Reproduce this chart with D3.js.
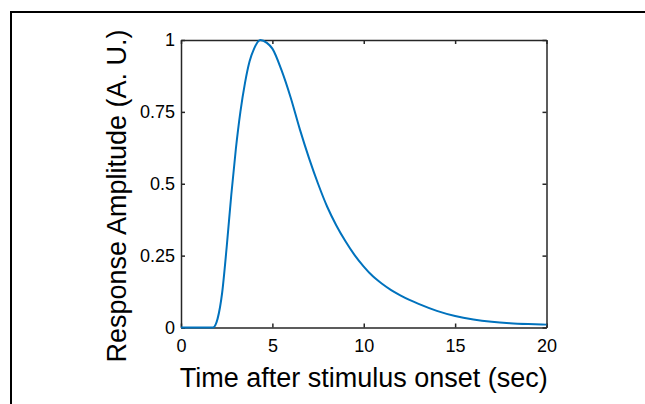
<!DOCTYPE html>
<html>
<head>
  <meta charset="utf-8">
  <title>HRF</title>
  <script src="https://cdn.jsdelivr.net/npm/d3@7"></script>
  <style>
    body { margin: 0; background: white; font-family: "Liberation Sans", Arial, sans-serif; }
  </style>
</head>
<body>
<div id="chart"></div>
<script>
// ----- Data -----
var timeSec = [0, 1.0, 1.75, 2.0, 2.25, 2.5, 2.75, 3.0, 3.25, 3.5, 3.75, 4.0, 4.34,
               4.7, 5.0, 5.5, 6.0, 6.5, 7.0, 7.5, 8.0, 8.5, 9.0, 9.5, 10.0, 10.5,
               11.0, 11.5, 12.0, 12.5, 13.0, 14.0, 15.0, 16.0, 17.0, 18.0, 19.0, 20.0];
var amplitude = [0, 0, 0, 0.03, 0.12, 0.28, 0.46, 0.62, 0.75, 0.85, 0.925, 0.97, 1.0,
                 0.99, 0.97, 0.895, 0.80, 0.69, 0.59, 0.50, 0.42, 0.355, 0.30, 0.252, 0.212, 0.178,
                 0.152, 0.13, 0.112, 0.096, 0.082, 0.058, 0.04, 0.028, 0.02, 0.015, 0.012, 0.01];

var xTicks = [0, 5, 10, 15, 20];
var xTickLabels = ['0', '5', '10', '15', '20'];
var yTicks = [0, 0.25, 0.5, 0.75, 1];
var yTickLabels = ['0', '0.25', '0.5', '0.75', '1'];

var xLabel = 'Time after stimulus onset (sec)';
var yLabel = 'Response Amplitude (A. U.)';

// ----- Layout -----
var width = 645, height = 404;
var plot = { left: 181, right: 546.5, top: 40, bottom: 327.5 };
var axisColor = '#262626';
var lineColor = '#0072BD';

var svg = d3.select('#chart').append('svg')
    .attr('width', width)
    .attr('height', height);

// outer frame (only top and left edges are visible)
svg.append('line').attr('x1', 10).attr('x2', 645).attr('y1', 12).attr('y2', 12)
   .attr('stroke', 'black').attr('stroke-width', 2);
svg.append('line').attr('x1', 11).attr('x2', 11).attr('y1', 11).attr('y2', 404)
   .attr('stroke', 'black').attr('stroke-width', 2);

var x = d3.scaleLinear().domain([0, 20]).range([plot.left, plot.right]);
var y = d3.scaleLinear().domain([0, 1]).range([plot.bottom, plot.top]);

function styleAxis(g) {
  g.attr('font-family', '"Liberation Sans", Arial, sans-serif')
   .attr('font-size', 18);
  g.selectAll('path, line').attr('stroke', axisColor).attr('stroke-width', 1.5);
  g.selectAll('text').attr('fill', 'black');
}

// bottom axis with labels
svg.append('g')
   .attr('transform', 'translate(0,' + plot.bottom + ')')
   .call(d3.axisBottom(x).tickValues(xTicks)
          .tickFormat(function(d, i) { return xTickLabels[i]; })
          .tickSizeInner(-4).tickSizeOuter(0).tickPadding(11.5))
   .call(styleAxis);

// top axis, ticks only
svg.append('g')
   .attr('transform', 'translate(0,' + plot.top + ')')
   .call(d3.axisTop(x).tickValues(xTicks).tickFormat('')
          .tickSizeInner(-4).tickSizeOuter(0))
   .call(styleAxis);

// left axis with labels
svg.append('g')
   .attr('transform', 'translate(' + plot.left + ',0)')
   .call(d3.axisLeft(y).tickValues(yTicks)
          .tickFormat(function(d, i) { return yTickLabels[i]; })
          .tickSizeInner(-4).tickSizeOuter(0).tickPadding(6))
   .call(styleAxis);

// right axis, ticks only
svg.append('g')
   .attr('transform', 'translate(' + plot.right + ',0)')
   .call(d3.axisRight(y).tickValues(yTicks).tickFormat('')
          .tickSizeInner(-4).tickSizeOuter(0))
   .call(styleAxis);

// response curve
var pts = timeSec.map(function(t, i) { return [t, amplitude[i]]; });
var line = d3.line()
    .x(function(d) { return x(d[0]); })
    .y(function(d) { return y(d[1]); })
    .curve(d3.curveMonotoneX);

svg.append('path')
   .datum(pts)
   .attr('d', line)
   .attr('fill', 'none')
   .attr('stroke', lineColor)
   .attr('stroke-width', 2);

// axis labels
svg.append('text')
   .attr('x', (plot.left + plot.right) / 2)
   .attr('y', 387)
   .attr('text-anchor', 'middle')
   .attr('font-size', 27)
   .attr('fill', 'black')
   .text(xLabel);

svg.append('text')
   .attr('transform', 'translate(125.5,196) rotate(-90)')
   .attr('text-anchor', 'middle')
   .attr('font-size', 27)
   .attr('fill', 'black')
   .text(yLabel);
</script>
</body>
</html>
